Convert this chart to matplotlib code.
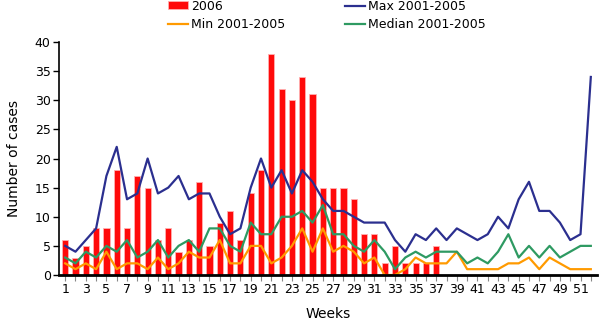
import numpy as np
import matplotlib
matplotlib.use("Agg")
import matplotlib.pyplot as plt

# Weekly case counts
weeks = list(range(1, 53))
weeks_2006 = list(range(1, 38))
cases_2006 = [6, 3, 5, 8, 8, 18, 8, 17, 15, 6, 8, 4, 6, 16, 5, 9, 11, 6, 14, 18,
              38, 32, 30, 34, 31, 15, 15, 15, 13, 7, 7, 2, 5, 2, 2, 2, 5]
max_0105 = [5, 4, 6, 8, 17, 22, 13, 14, 20, 14, 15, 17, 13, 14, 14, 10, 7, 8, 15, 20,
            15, 18, 14, 18, 16, 13, 11, 11, 10, 9, 9, 9, 6, 4, 7, 6, 8, 6, 8, 7,
            6, 7, 10, 8, 13, 16, 11, 11, 9, 6, 7, 34]
min_0105 = [2, 1, 2, 1, 4, 1, 2, 2, 1, 3, 1, 2, 4, 3, 3, 6, 2, 2, 5, 5,
            2, 3, 5, 8, 4, 8, 4, 5, 4, 2, 3, 0, 0, 1, 3, 2, 2, 2, 4, 1,
            1, 1, 1, 2, 2, 3, 1, 3, 2, 1, 1, 1]
median_0105 = [3, 2, 4, 3, 5, 4, 6, 3, 4, 6, 3, 5, 6, 4, 8, 8, 5, 4, 9, 7,
               7, 10, 10, 11, 9, 12, 7, 7, 5, 4, 6, 4, 1, 3, 4, 3, 4, 4, 4, 2,
               3, 2, 4, 7, 3, 5, 3, 5, 3, 4, 5, 5]

plt.rcParams['font.family'] = ['DejaVu Sans']

fig = plt.figure(figsize=(6, 3.23), dpi=100)
ax = fig.add_axes([59 / 600, 48 / 323, 538 / 600, 233 / 323])

b = ax.bar(weeks_2006, cases_2006, width=0.6, color='#FF0A0A',
           edgecolor='#FFB0B0', linewidth=0.6, label='2006', zorder=1)
l_min, = ax.plot(weeks, min_0105, color='#FF9A00', lw=1.6, label='Min 2001-2005', zorder=2)
l_max, = ax.plot(weeks, max_0105, color='#2B2F8F', lw=1.6, label='Max 2001-2005', zorder=3)
l_med, = ax.plot(weeks, median_0105, color='#2E9A62', lw=1.6, label='Median 2001-2005', zorder=2)

ax.set_xlim(0.4, 52.6)
ax.set_ylim(0, 40)
ax.set_yticks(range(0, 41, 5))
ax.set_xticks(range(1, 53, 2))
ax.set_xticks(weeks, minor=True)
ax.tick_params(axis='x', which='both', length=4, width=0.8, color='#888888',
               labelsize=9, pad=2)
ax.tick_params(axis='y', length=4, width=1, labelsize=9, pad=2)

for s in ['top', 'right']:
    ax.spines[s].set_visible(False)
ax.spines['bottom'].set_linewidth(2)
ax.spines['left'].set_linewidth(1.2)

ax.set_xlabel('Weeks', fontsize=10, labelpad=8)
ax.set_ylabel('Number of cases', fontsize=10, labelpad=10)

fig.legend([b, l_min, l_max, l_med],
           ['2006', 'Min 2001-2005', 'Max 2001-2005', 'Median 2001-2005'],
           ncol=2, loc='upper left', bbox_to_anchor=(160 / 600, 1.024),
           frameon=False, fontsize=9, handlelength=1.6, handleheight=0.6,
           handletextpad=0.25, columnspacing=4.8, labelspacing=0.4,
           borderpad=0.1)

fig.savefig('out.png', dpi=100)
